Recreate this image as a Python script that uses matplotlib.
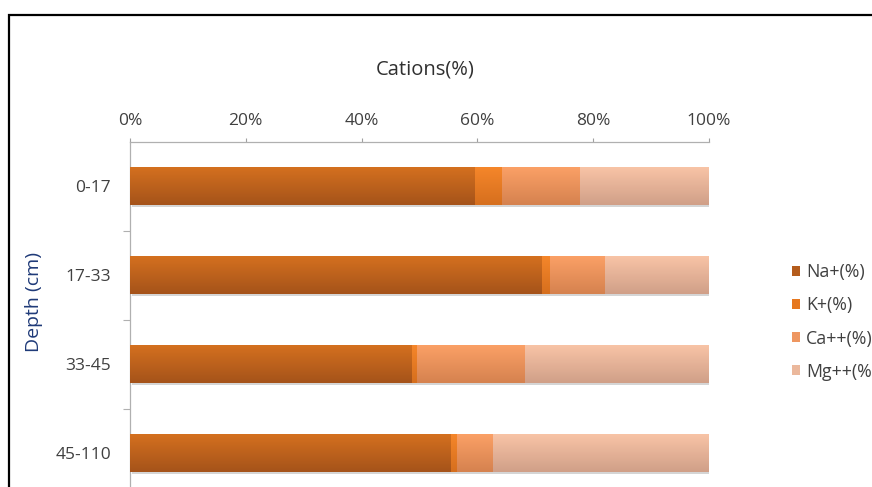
import matplotlib
matplotlib.use("Agg")
import matplotlib.pyplot as plt
import numpy as np
from matplotlib.patches import Rectangle, Patch
from matplotlib.colors import LinearSegmentedColormap

plt.rcParams['font.family'] = ['Open Sans', 'DejaVu Sans']

categories = ["0-17", "17-33", "33-45", "45-110"]
series_names = ["Na+(%)", "K+(%)", "Ca++(%)", "Mg++(%)"]
na = [59.6, 71.1, 48.7, 55.5]
k = [4.6, 1.4, 0.9, 0.9]
ca = [13.6, 9.6, 18.7, 6.3]
mg = [22.2, 17.9, 31.7, 37.3]
xticks = [0, 20, 40, 60, 80, 100]
xtick_labels = ["0%", "20%", "40%", "60%", "80%", "100%"]

top_colors = ["#D4701F", "#F5862A", "#FBA066", "#F8C4A6"]
bot_colors = ["#A5531A", "#D66F1E", "#D5824F", "#D09F88"]
legend_colors = ["#B45C1C", "#E6781F", "#EE9660", "#EBB89C"]

W, H = 872, 487
fig = plt.figure(figsize=(W / 100, H / 100), dpi=100)

# outer frame
fig.patches.append(Rectangle((8.5 / W, -0.1), 1.2, 1.1 - 15 / H, transform=fig.transFigure,
                             fill=False, edgecolor="black", linewidth=1.6))

ax_left, ax_right = 130, 709
ax_top, ax_bot = 141.5, 497.5
ax = fig.add_axes([ax_left / W, 1 - ax_bot / H, (ax_right - ax_left) / W, (ax_bot - ax_top) / H])

y = np.arange(len(categories))
bh = 0.42
left = np.zeros(len(categories))
for vals, tc, bc in zip([na, k, ca, mg], top_colors, bot_colors):
    bars = ax.barh(y, vals, left=left, height=bh, color=tc, edgecolor="none", zorder=2)
    cmap = LinearSegmentedColormap.from_list("g", [tc, bc])
    grad = np.linspace(0, 1, 64).reshape(-1, 1)
    for b in bars:
        x0, y0 = b.get_x(), b.get_y()
        im = ax.imshow(grad, cmap=cmap, aspect="auto", zorder=3,
                       extent=(x0, x0 + b.get_width(), y0 + b.get_height(), y0),
                       interpolation="bilinear")
        im.set_clip_path(b)
    left = left + np.array(vals)

# soft shadow beneath bars
for yi, tot in zip(y, left):
    ax.add_patch(Rectangle((0.3, yi - bh / 2 + 0.03), tot, bh, facecolor="#888888",
                           alpha=0.35, edgecolor="none", zorder=1))

ax.set_xlim(0, 100)
ax.set_ylim(len(categories) - 0.5, -0.5)

ax.xaxis.tick_top()
ax.set_xticks(xticks)
ax.set_xticklabels(xtick_labels, fontsize=12.5, color="#404040")
ax.tick_params(axis="x", which="major", direction="out", length=3, width=0.8,
               color="#A0A0A0", pad=6)

ax.set_yticks(y)
ax.set_yticklabels(categories, fontsize=12.5, color="#404040")
ax.tick_params(axis="y", which="major", length=0, pad=13.5)
ax.set_yticks(np.arange(len(categories) - 1) + 0.5, minor=True)
ax.tick_params(axis="y", which="minor", direction="out", length=5, width=0.8, color="#B0B0B0")

for s in ["right", "bottom"]:
    ax.spines[s].set_visible(False)
for s in ["top", "left"]:
    ax.spines[s].set_color("#B0B0B0")
    ax.spines[s].set_linewidth(0.9)

ax.set_ylabel("Depth (cm)", fontsize=14, color="#1F3A78")
ax.yaxis.set_label_coords((43 - ax_left) / (ax_right - ax_left), 1 - (302 - ax_top) / (ax_bot - ax_top))

fig.text(425 / W, 1 - 70 / H, "Cations(%)", ha="center", va="center", fontsize=14.5, color="#303030")

handles = [Patch(facecolor=c, edgecolor="none") for c in legend_colors]
fig.legend(handles, series_names, loc="center left", bbox_to_anchor=(792 / W, 1 - 322 / H),
           frameon=False, fontsize=12.8, handlelength=0.47, handleheight=0.47,
           handletextpad=0.33, labelspacing=0.85, labelcolor="#404040", borderaxespad=0, borderpad=0)

fig.savefig("out.png", dpi=100)
